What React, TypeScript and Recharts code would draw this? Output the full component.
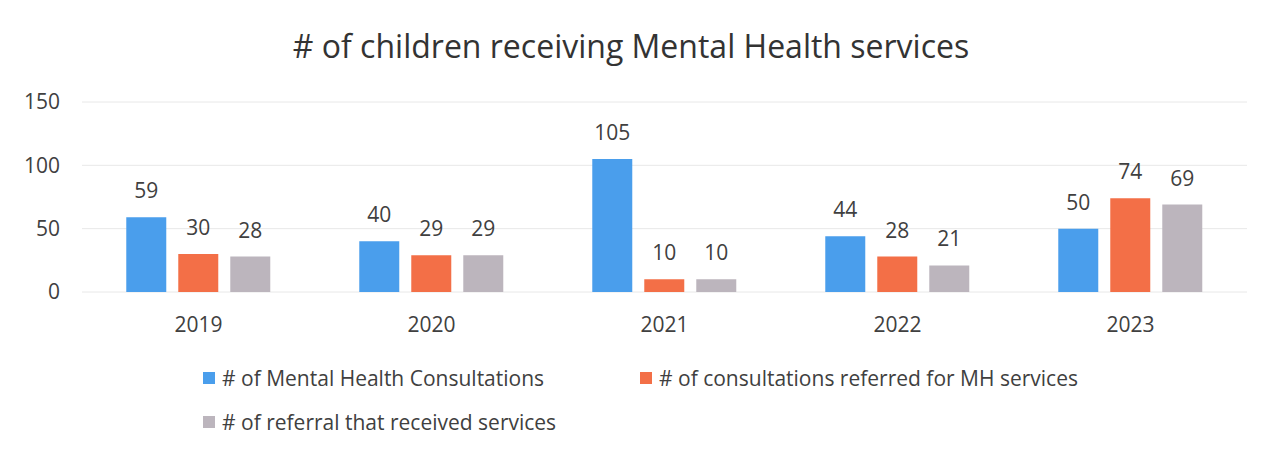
import React from 'react';
import { BarChart, Bar, XAxis, YAxis, CartesianGrid, LabelList } from 'recharts';

const years = ['2019', '2020', '2021', '2022', '2023'];
const consultations = [59, 40, 105, 44, 50];
const referred = [30, 29, 10, 28, 74];
const received = [28, 29, 10, 21, 69];
const yTicks = [0, 50, 100, 150];

const seriesInfo = [
  { key: 'consultations', name: '# of Mental Health Consultations', color: '#4A9EEC' },
  { key: 'referred', name: '# of consultations referred for MH services', color: '#F36F47' },
  { key: 'received', name: '# of referral that received services', color: '#BCB5BD' },
];

const data = years.map((year, i) => ({
  year,
  consultations: consultations[i],
  referred: referred[i],
  received: received[i],
}));

const FONT = '"Open Sans", sans-serif';
const TEXT = '#404040';

function LegendBox() {
  return (
    <div style={{ position: 'absolute', left: 0, top: 364, width: 1262, height: 90, fontFamily: FONT, fontSize: 21, color: TEXT }}>
      {seriesInfo.map((s, i) => {
        const left = i === 1 ? 640 : 203;
        const top = i === 2 ? 44 : 0;
        return (
          <div key={s.key} style={{ position: 'absolute', left, top, height: 28, display: 'flex', alignItems: 'center', whiteSpace: 'nowrap' }}>
            <span style={{ display: 'inline-block', width: 12, height: 12, background: s.color, marginRight: 7 }} />
            <span>{s.name}</span>
          </div>
        );
      })}
    </div>
  );
}

export default function App() {
  return (
    <div style={{ width: 1262, height: 455, background: '#fff', position: 'relative', fontFamily: FONT }}>
      <style>{'body{margin:0}'}</style>
      <div style={{ position: 'absolute', top: 24, left: 0, width: 1262, textAlign: 'center', fontSize: 32, color: '#333' }}>
        # of children receiving Mental Health services
      </div>
      <BarChart
        width={1262}
        height={455}
        data={data}
        margin={{ top: 102, right: 15, bottom: 123, left: 2 }}
        barCategoryGap="19%"
        barGap={12}
      >
        <CartesianGrid vertical={false} stroke="#e8e8e8" />
        <XAxis
          dataKey="year"
          axisLine={false}
          tickLine={false}
          tick={{ fontSize: 21, fill: TEXT, fontFamily: FONT }}
          tickMargin={19}
          height={40}
        />
        <YAxis
          domain={[0, 150]}
          ticks={yTicks}
          axisLine={false}
          tickLine={false}
          width={80}
          tickMargin={16}
          tick={{ fontSize: 21, fill: TEXT, fontFamily: FONT }}
        />
        {seriesInfo.map((s) => (
          <Bar key={s.key} dataKey={s.key} name={s.name} fill={s.color} isAnimationActive={false}>
            <LabelList dataKey={s.key} position="top" offset={19} style={{ fontSize: 21, fill: TEXT, fontFamily: FONT }} />
          </Bar>
        ))}
      </BarChart>
      <LegendBox />
    </div>
  );
}
